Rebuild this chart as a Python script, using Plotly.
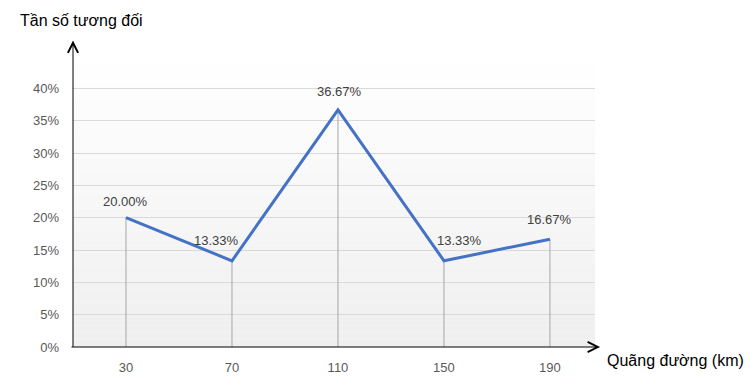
import plotly.graph_objects as go

# ---- data ----
distances = [30, 70, 110, 150, 190]
rel_freq = [20.00, 13.33, 36.67, 13.33, 16.67]
label_texts = ["20.00%", "13.33%", "36.67%", "13.33%", "16.67%"]
y_ticks = [0, 5, 10, 15, 20, 25, 30, 35, 40]
y_tick_text = ["0%", "5%", "10%", "15%", "20%", "25%", "30%", "35%", "40%"]
y_title = "Tần số tương đối"
x_title = "Quãng đường (km)"

FONT = "Liberation Sans"

fig = go.Figure()

# drop lines from each point to the axis
drop_x, drop_y = [], []
for xv, yv in zip(distances, rel_freq):
    drop_x += [xv, xv, None]
    drop_y += [0, yv, None]
fig.add_trace(go.Scatter(x=drop_x, y=drop_y, mode="lines",
                         line=dict(color="#a6a6a6", width=1),
                         hoverinfo="skip", showlegend=False))

# main line
fig.add_trace(go.Scatter(x=distances, y=rel_freq, mode="lines",
                         line=dict(color="#4472C4", width=3),
                         showlegend=False))

# gradient background
shapes = []
n = 40
top_col = (255, 255, 255)
bot_col = (239, 239, 239)
for i in range(n):
    t = (i + 0.5) / n
    c = tuple(int(round(bot_col[k] + (top_col[k] - bot_col[k]) * t)) for k in range(3))
    shapes.append(dict(type="rect", xref="x domain", yref="y domain",
                       x0=0, x1=1, y0=i / n, y1=(i + 1) / n,
                       fillcolor="rgb(%d,%d,%d)" % c, line=dict(width=0),
                       layer="below"))

annotations = []
# data labels
xshifts = [0, -15, 2, 16, 0]
yshifts = [16, 20, 18, 20, 20]
for xv, yv, txt, xs, ys in zip(distances, rel_freq, label_texts, xshifts, yshifts):
    annotations.append(dict(x=xv, y=yv, xref="x", yref="y", text=txt,
                            showarrow=False, xshift=xs, yshift=ys,
                            font=dict(family=FONT, size=13, color="#404040")))

# axis arrows
annotations.append(dict(x=0, y=1.0535, xref="paper", yref="paper",
                        ax=0, ay=308, axref="pixel", ayref="pixel",
                        showarrow=True, arrowhead=5, arrowsize=2,
                        arrowwidth=1, arrowcolor="#000000", text=""))
annotations.append(dict(x=1.0096, y=0, xref="paper", yref="paper",
                        ax=-530, ay=0, axref="pixel", ayref="pixel",
                        showarrow=True, arrowhead=5, arrowsize=2,
                        arrowwidth=1, arrowcolor="#000000", text=""))

# axis titles
annotations.append(dict(x=18, y=20, xref="paper", yref="paper", text=y_title,
                        showarrow=False, xanchor="left", yanchor="middle",
                        font=dict(family=FONT, size=16, color="#000000")))
annotations.append(dict(x=605, y=360, xref="paper", yref="paper", text=x_title,
                        showarrow=False, xanchor="left", yanchor="middle",
                        font=dict(family=FONT, size=16, color="#000000")))

# convert pixel positions for the two titles to paper coords
L, R, T, B = 73, 159, 56, 39
W, H = 754, 386
pw, ph = W - L - R, H - T - B
for a in annotations[-2:]:
    a["x"] = (a["x"] - L) / pw
    a["y"] = (H - B - a["y"]) / ph

fig.update_layout(
    width=W, height=H,
    margin=dict(l=L, r=R, t=T, b=B, pad=0),
    paper_bgcolor="white",
    plot_bgcolor="rgba(0,0,0,0)",
    shapes=shapes,
    annotations=annotations,
    showlegend=False,
    xaxis=dict(range=[10, 207], tickvals=distances,
               ticktext=[str(d) for d in distances],
               showgrid=False, zeroline=False, showline=False, ticks="",
               ticklabelstandoff=11,
               tickfont=dict(family=FONT, size=13, color="#595959")),
    yaxis=dict(range=[0, 45], tickvals=y_ticks, ticktext=y_tick_text,
               showgrid=True, gridcolor="#d9d9d9", gridwidth=1,
               zeroline=False, showline=False, ticks="",
               ticklabelstandoff=13,
               tickfont=dict(family=FONT, size=13, color="#595959")),
)

fig.write_html("out.html")
